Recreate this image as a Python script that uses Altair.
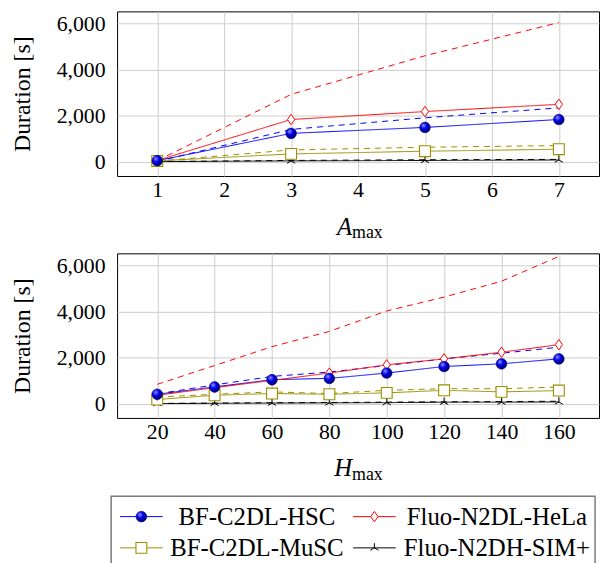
import altair as alt
import pandas as pd

# ---------------- data ----------------
series = ["BF-C2DL-HSC", "Fluo-N2DL-HeLa", "BF-C2DL-MuSC", "Fluo-N2DH-SIM+"]
colors = ["#0000ff", "#ff0000", "#9a9000", "#000000"]

a_max = [1, 3, 5, 7]
a_ticks = [1, 2, 3, 4, 5, 6, 7]
a_hsc = [50, 1234, 1492, 1836]
a_hsc_d = [20, 1406, 1910, 2340]
a_hela = [60, 1836, 2180, 2495]
a_hela_d = [50, 2925, 4600, 6040]
a_musc = [40, 344, 460, 546]
a_musc_d = [30, 516, 632, 705]
a_sim = [10, 40, 60, 80]
a_sim_d = [10, 60, 90, 105]

h_max = [20, 40, 60, 80, 100, 120, 140, 160]
h_hsc = [413, 731, 1045, 1101, 1333, 1617, 1733, 1948]
h_hsc_d = [430, 817, 1187, 1376, 1660, 1948, 2193, 2452]
h_hela = [370, 701, 1015, 1333, 1690, 1948, 2236, 2563]
h_hela_d = [843, 1660, 2477, 3140, 4026, 4628, 5316, 6391]
h_musc = [185, 370, 443, 413, 473, 585, 516, 572]
h_musc_d = [290, 413, 516, 443, 585, 655, 655, 726]
h_sim = [10, 20, 30, 40, 50, 70, 70, 80]
h_sim_d = [15, 30, 45, 55, 70, 85, 95, 110]

y_ticks = [0, 2000, 4000, 6000]


def long_df(xs, solid, dashed):
    rows = []
    for s, sv, dv in zip(series, solid, dashed):
        for x, v in zip(xs, sv):
            rows.append({"x": x, "y": v, "series": s, "style": "solid"})
        for x, v in zip(xs, dv):
            rows.append({"x": x, "y": v, "series": s, "style": "dashed"})
    return pd.DataFrame(rows)


df_a = long_df(a_max, [a_hsc, a_hela, a_musc, a_sim], [a_hsc_d, a_hela_d, a_musc_d, a_sim_d])
df_h = long_df(h_max, [h_hsc, h_hela, h_musc, h_sim], [h_hsc_d, h_hela_d, h_musc_d, h_sim_d])

FONT = "Liberation Serif"
W, H = 486, 166

ball = alt.RadialGradient(
    gradient="radial",
    x1=0.35, y1=0.3, r1=0.0, x2=0.4, y2=0.4, r2=0.65,
    stops=[
        alt.GradientStop(offset=0, color="#9a9aff"),
        alt.GradientStop(offset=0.45, color="#0000ee"),
        alt.GradientStop(offset=1, color="#00005a"),
    ],
)

DIAMOND = "M0,-1L0.7,0L0,1L-0.7,0Z"
STAR = "M0,0L0,-1M0,0L-0.866,0.5M0,0L0.866,0.5"

marker_styles = {
    "BF-C2DL-HSC": dict(shape="circle", size=115, filled=True, fill=ball, stroke="#00007a", strokeWidth=0.6),
    "Fluo-N2DL-HeLa": dict(shape=DIAMOND, size=110, filled=True, fill="white", stroke="#ff0000", strokeWidth=1),
    "BF-C2DL-MuSC": dict(shape="square", size=120, filled=True, fill="white", stroke="#9a9000", strokeWidth=1.1),
    "Fluo-N2DH-SIM+": dict(shape=STAR, size=90, filled=False, stroke="#000000", strokeWidth=1),
}

color_scale = alt.Scale(domain=series, range=colors)


def panel(df, xdom, xticks, sub_main):
    base = alt.Chart(df)
    x_enc = alt.X(
        "x:Q",
        scale=alt.Scale(domain=xdom, nice=False, zero=False),
        axis=alt.Axis(values=xticks, title=None, labelPadding=4, format="d"),
    )
    y_enc = alt.Y(
        "y:Q",
        scale=alt.Scale(domain=[-615, 6525], nice=False, zero=False),
        axis=alt.Axis(values=y_ticks, title="Duration [s]", format=",d",
                      labelPadding=12, titlePadding=22),
    )
    lines = base.mark_line(strokeWidth=1, clip=True).encode(
        x=x_enc,
        y=y_enc,
        color=alt.Color("series:N", scale=color_scale, legend=None),
        strokeDash=alt.StrokeDash(
            "style:N",
            scale=alt.Scale(domain=["solid", "dashed"], range=[[1, 0], [6, 5]]),
            legend=None,
        ),
    )
    layers = [lines]
    for s in reversed(series):
        layers.append(
            base.transform_filter((alt.datum.series == s) & (alt.datum.style == "solid"))
            .mark_point(opacity=1, **marker_styles[s])
            .encode(x="x:Q", y="y:Q")
        )
    t1 = alt.Chart(pd.DataFrame({"t": [sub_main]})).mark_text(
        font=FONT, fontSize=25, fontStyle="italic", align="right", baseline="alphabetic", color="black"
    ).encode(text="t:N", x=alt.value(237), y=alt.value(H + 59))
    t2 = alt.Chart(pd.DataFrame({"t": ["max"]})).mark_text(
        font=FONT, fontSize=18, align="left", baseline="alphabetic", color="black"
    ).encode(text="t:N", x=alt.value(237), y=alt.value(H + 63))
    layers += [t1, t2]
    return alt.layer(*layers).properties(width=W, height=H)


top = panel(df_a, [0.4, 7.6], a_ticks, "A")
bottom = panel(df_h, [6, 174], h_max, "H")

# ---------------- legend panel ----------------
leg = alt.Chart(pd.DataFrame({"series": series, "i": list(range(len(series)))})).transform_calculate(
    col="datum.i % 2",
    row="floor(datum.i / 2)",
).transform_calculate(
    lx1="3 + datum.col * 235",
    lx2="46 + datum.col * 235",
    mx="24.5 + datum.col * 235",
    tx="datum.col == 0 ? 141 : 383",
    ly="20.5 + datum.row * 31.5",
)
box = alt.Chart(pd.DataFrame({"b": [0]})).mark_rect(
    fill="white", stroke="#7a7a7a", strokeWidth=1.5
).encode(x=alt.value(-6), x2=alt.value(482), y=alt.value(0), y2=alt.value(82))
leg_line = leg.mark_rule(strokeWidth=1).encode(
    x=alt.X("lx1:Q", scale=None), x2="lx2:Q", y=alt.Y("ly:Q", scale=None),
    color=alt.Color("series:N", scale=color_scale, legend=None),
)
leg_layers = [box, leg_line]
for s in series:
    leg_layers.append(
        leg.transform_filter(alt.datum.series == s)
        .mark_point(opacity=1, **marker_styles[s])
        .encode(x=alt.X("mx:Q", scale=None), y=alt.Y("ly:Q", scale=None))
    )
leg_text = leg.mark_text(font=FONT, fontSize=25, align="center", baseline="middle", color="black").encode(
    x=alt.X("tx:Q", scale=None), y=alt.Y("ly:Q", scale=None), text="series:N"
)
leg_layers.append(leg_text)
legend = alt.layer(*leg_layers).properties(
    width=476, height=72, view=alt.ViewBackground(stroke="transparent", strokeWidth=0)
)

plots = alt.vconcat(top, bottom, spacing=9)
chart = alt.vconcat(plots, legend, spacing=10).properties(
    padding={"left": 2, "top": 0, "right": 0, "bottom": 0}
).configure(
    font=FONT,
    style={"guide-label": {"font": FONT}, "guide-title": {"font": FONT}},
).configure_view(stroke="black", strokeWidth=1).configure_axis(
    labelFont=FONT, labelFontSize=22, labelColor="black",
    titleFont=FONT, titleFontSize=24, titleFontWeight="normal", titleColor="black",
    grid=True, gridColor="#cccccc", gridWidth=1, domain=False, ticks=False,
)

chart.save("out.html", embed_options={"renderer": "svg", "actions": False})
